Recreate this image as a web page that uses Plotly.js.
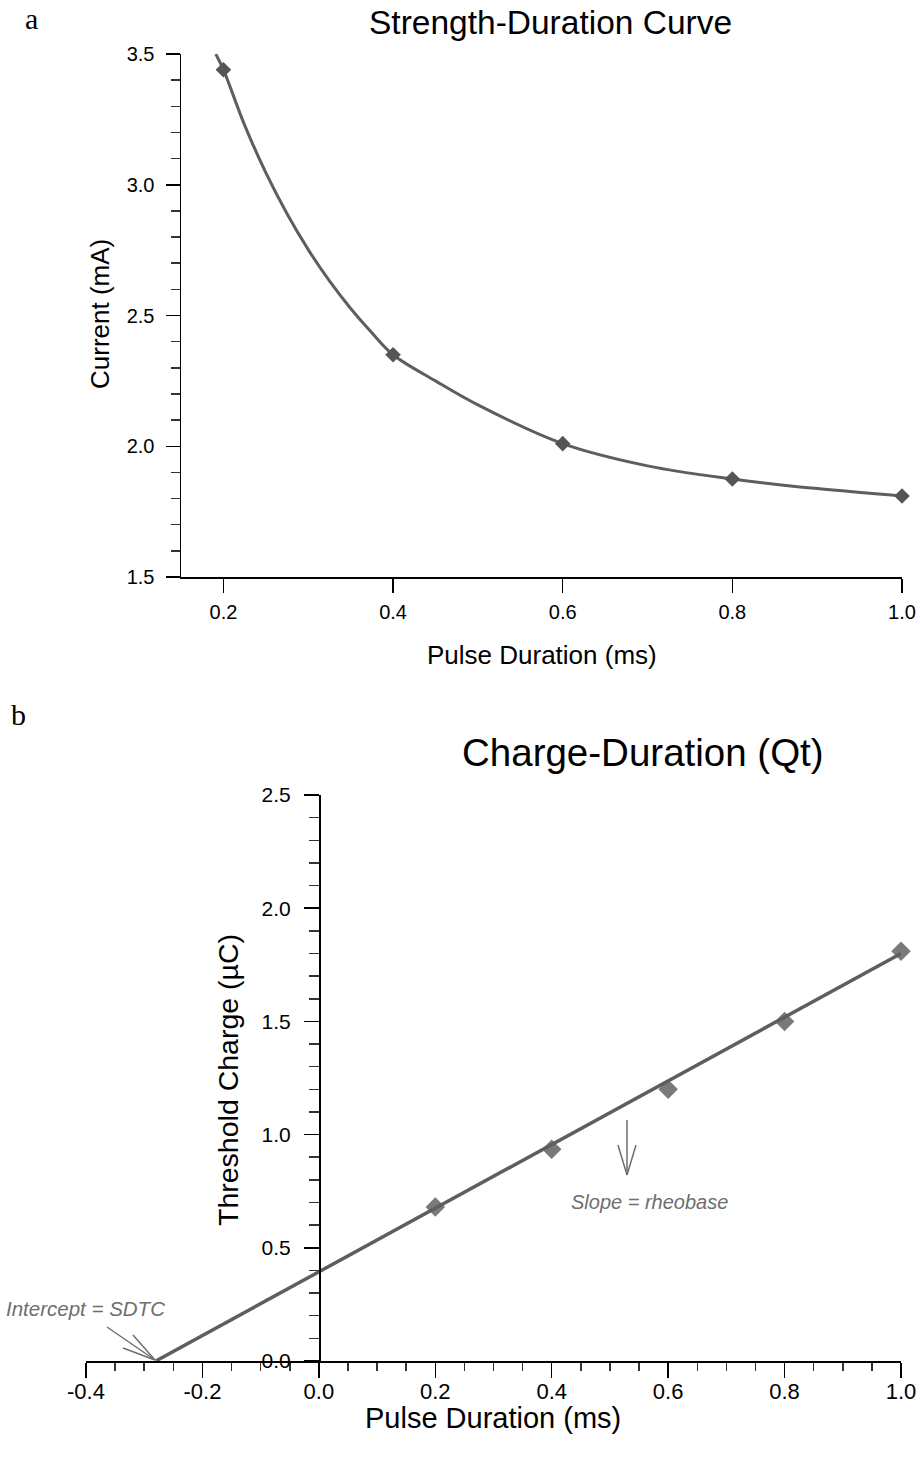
<!DOCTYPE html>
<html><head><meta charset="utf-8">
<script src="https://cdn.plot.ly/plotly-3.0.1.min.js"></script>
<style>html,body{margin:0;padding:0;background:#fff}</style>
</head><body>
<div id="chart" style="width:921px;height:1462px"></div>
<script>
// ---- data ----
const pulseDuration = [0.2, 0.4, 0.6, 0.8, 1.0];
const thresholdCurrent = [3.44, 2.35, 2.01, 1.875, 1.81];
const curveX = [0.191, 0.2, 0.225, 0.25, 0.275, 0.3, 0.325, 0.35, 0.375, 0.4, 0.45, 0.5, 0.6, 0.7, 0.8, 0.9, 1.0];
const curveY = [3.50, 3.44, 3.228, 3.046, 2.889, 2.752, 2.632, 2.527, 2.434, 2.35, 2.25, 2.158, 2.01, 1.925, 1.875, 1.838, 1.81];
const thresholdCharge = [0.68, 0.935, 1.2, 1.5, 1.81];
const fitX = [-0.28, 1.0];
const fitY = [0.0, 1.80];
const qtTickVals = [-0.4, -0.2, 0.0, 0.2, 0.4, 0.6, 0.8, 1.0];
const qtTickText = ["-0.4", "-0.2", "0.0", "0.2", "0.4", "0.6", "0.8", "1.0"];
const topTitle = "Strength-Duration Curve";
const bottomTitle = "Charge-Duration (Qt)";

// ---- page geometry helpers (margins are 0, so paper == page pixels) ----
const W = 921, H = 1462;
const px = p => p / W;
const py = p => 1 - p / H;

const FONT = "Liberation Sans, Arial, sans-serif";
const SERIF = "Liberation Serif, Times New Roman, serif";
const LINE = "#5e5e5e";
const GREY = "#6e6e6e";

const traces = [
  {x: curveX, y: curveY, mode: "lines", line: {color: LINE, width: 3, shape: "spline", smoothing: 1},
   xaxis: "x", yaxis: "y", hoverinfo: "skip", cliponaxis: false},
  {x: pulseDuration, y: thresholdCurrent, mode: "markers",
   marker: {symbol: "diamond", size: 12, color: "#555555"}, xaxis: "x", yaxis: "y", cliponaxis: false},
  {x: pulseDuration, y: thresholdCharge, mode: "markers",
   marker: {symbol: "diamond", size: 15, color: "#7a7a7a"}, xaxis: "x2", yaxis: "y2", cliponaxis: false},
  {x: fitX, y: fitY, mode: "lines", line: {color: LINE, width: 3.5},
   xaxis: "x2", yaxis: "y2", cliponaxis: false}
];

const axisBase = {
  showline: true, linecolor: "#000", linewidth: 1.5, showgrid: false, zeroline: false,
  ticks: "outside", tickcolor: "#000", tickwidth: 1.5, tickformat: ".1f", fixedrange: true
};

const line = (x0, y0, x1, y1) => ({type: "line", xref: "paper", yref: "paper",
  x0: px(x0), y0: py(y0), x1: px(x1), y1: py(y1), line: {color: GREY, width: 1.5}});

const ann = (text, x, y, size, opts = {}) => Object.assign({
  text, x: px(x), y: py(y), xref: "paper", yref: "paper", showarrow: false,
  xanchor: "center", yanchor: "middle", font: {family: FONT, size, color: "#000"}
}, opts);

const layout = {
  width: W, height: H, margin: {l: 0, r: 0, t: 0, b: 0},
  paper_bgcolor: "#fff", plot_bgcolor: "#fff", showlegend: false,
  font: {family: FONT, color: "#000"},
  xaxis: Object.assign({}, axisBase, {
    domain: [px(181), px(902)], range: [0.15, 1.0], anchor: "y",
    tickvals: pulseDuration, ticklen: 14, ticklabelstandoff: 2,
    tickfont: {family: FONT, size: 20}
  }),
  yaxis: Object.assign({}, axisBase, {
    domain: [py(577), py(54)], range: [1.5, 3.5], anchor: "x",
    dtick: 0.5, tick0: 1.5, ticklen: 14, ticklabelstandoff: 7,
    tickfont: {family: FONT, size: 20},
    minor: {dtick: 0.1, ticks: "outside", ticklen: 9, tickcolor: "#333", tickwidth: 1.5}
  }),
  xaxis2: Object.assign({}, axisBase, {
    domain: [px(86), px(901)], range: [-0.4, 1.0], anchor: "y2",
    tickmode: "array", tickvals: qtTickVals, ticktext: qtTickText,
    ticklen: 15, ticklabelstandoff: -5,
    tickfont: {family: FONT, size: 22},
    minor: {dtick: 0.05, tick0: -0.4, ticks: "outside", ticklen: 8, tickcolor: "#333", tickwidth: 1.5}
  }),
  yaxis2: Object.assign({}, axisBase, {
    domain: [py(1361), py(795)], range: [0, 2.5], anchor: "free", position: px(319),
    dtick: 0.5, tick0: 0, ticklen: 15, ticklabelstandoff: 9,
    tickfont: {family: FONT, size: 21},
    minor: {dtick: 0.1, ticks: "outside", ticklen: 10, tickcolor: "#333", tickwidth: 1.5}
  }),
  shapes: [
    line(107, 1327, 155, 1360),
    line(133, 1335, 155, 1360),
    line(123, 1348, 155, 1360),
    line(627, 1120, 627, 1175),
    line(618, 1145, 627, 1175),
    line(636, 1145, 627, 1175)
  ],
  annotations: [
    ann("a", 31, 18, 30, {font: {family: SERIF, size: 30, color: "#000"}}),
    ann("b", 18, 714, 30, {font: {family: SERIF, size: 30, color: "#000"}}),
    ann(topTitle, 550, 22, 33.5),
    ann(bottomTitle, 643, 752, 38.5),
    ann("Pulse Duration (ms)", 542, 655, 26),
    ann("Current (mA)", 100, 314, 26, {textangle: -90}),
    ann("Pulse Duration (ms)", 493, 1418, 29),
    ann("Threshold Charge (\u00b5C)", 228, 1080, 28.5, {textangle: -90}),
    ann("<i>Intercept = SDTC</i>", 85, 1308, 20.5, {font: {family: FONT, size: 20.5, color: GREY}}),
    ann("<i>Slope = rheobase</i>", 649, 1202, 20, {font: {family: FONT, size: 20, color: GREY}})
  ]
};

Plotly.newPlot("chart", traces, layout, {staticPlot: true, displayModeBar: false});
</script>
</body></html>
